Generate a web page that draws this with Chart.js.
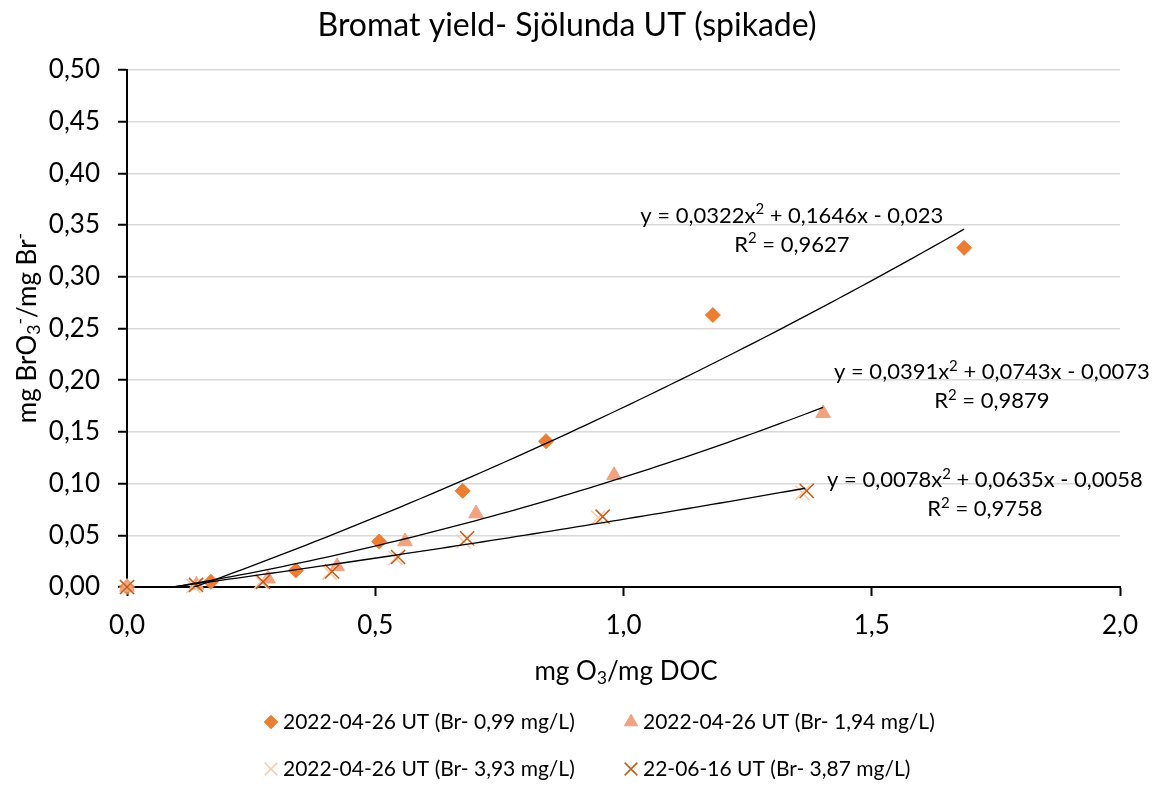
<!DOCTYPE html>
<html><head><meta charset="utf-8">
<script src="https://cdn.jsdelivr.net/npm/chart.js@4.4.1/dist/chart.umd.min.js"></script>
<style>html,body{margin:0;padding:0;background:#fff;}#wrap{width:1158px;height:785px;position:relative;}</style>
</head><body><div id="wrap"><canvas id="c" width="1158" height="785"></canvas></div>
<script>
// ---------- data ----------
const chartTitle = 'Bromat yield- Sjölunda UT (spikade)';
const seriesNames = ['2022-04-26 UT (Br- 0,99 mg/L)', '2022-04-26 UT (Br- 1,94 mg/L)', '2022-04-26 UT (Br- 3,93 mg/L)', '22-06-16 UT (Br- 3,87 mg/L)'];
const s1x = [0, 0.169, 0.340, 0.508, 0.676, 0.844, 1.180, 1.686];
const s1y = [0, 0.005, 0.016, 0.044, 0.093, 0.141, 0.263, 0.328];
const s2x = [0, 0.140, 0.284, 0.423, 0.560, 0.703, 0.981, 1.402];
const s2y = [0, 0.002, 0.008, 0.020, 0.044, 0.071, 0.108, 0.168];
const s3x = [0, 0.134, 0.270, 0.408, 0.541, 0.678, 0.949, 1.360];
const s3y = [0, 0.001, 0.005, 0.014, 0.028, 0.044, 0.067, 0.091];
const s4x = [0, 0.139, 0.274, 0.413, 0.546, 0.685, 0.958, 1.369];
const s4y = [0, 0.002, 0.005, 0.015, 0.029, 0.047, 0.068, 0.093];
// polynomial trendlines (as printed on chart): a*x^2 + b*x + c
const trendA = [0.0322, 0.0391, 0.0078];
const trendB = [0.1646, 0.0743, 0.0635];
const trendC = [-0.023, -0.0073, -0.0058];
const trendR2 = ['0,9627', '0,9879', '0,9758'];
const trendXmax = [1.686, 1.402, 1.366];
const xTickStep = 0.5, yTickStep = 0.05;

// ---------- helpers ----------
const FONT = 'Lato, "Open Sans", sans-serif';
const zip = (xs, ys) => xs.map((x, i) => ({x: x, y: ys[i]}));
const comma = v => String(v).replace('.', ',');
function trendPoints(k) {
  const pts = [];
  const n = 80;
  for (let i = 0; i <= n; i++) {
    const x = trendXmax[k] * i / n;
    pts.push({x: x, y: trendA[k] * x * x + trendB[k] * x + trendC[k]});
  }
  return pts;
}
function eqSegs(k) {
  return [{t: 'y = ' + comma(trendA[k]) + 'x'}, {t: '2', sup: true},
          {t: ' + ' + comma(trendB[k]) + 'x - ' + comma(-trendC[k])}];
}
function drawRich(ctx, segs, cx, cy, size, align) {
  let w = 0;
  segs.forEach(s => {
    const sz = (s.sup || s.sub) ? size * 0.68 : size;
    ctx.font = sz + 'px ' + FONT;
    s.w = ctx.measureText(s.t).width; w += s.w;
  });
  let x = align === 'left' ? cx : cx - w / 2;
  ctx.textAlign = 'left';
  ctx.textBaseline = 'middle';
  segs.forEach(s => {
    const sz = (s.sup || s.sub) ? size * 0.68 : size;
    ctx.font = sz + 'px ' + FONT;
    const dy = s.sup ? -size * 0.28 : (s.sub ? size * 0.25 : 0);
    ctx.fillText(s.t, x, cy + dy);
    x += s.w;
  });
}

const colors = ['#ED7D31', '#F2A27F', '#F8CBAD', '#C55A11'];
const styles = [
  {pointStyle: 'rectRot', radius: 7.5, bw: 1},
  {pointStyle: 'triangle', radius: 8.5, bw: 1},
  {pointStyle: 'crossRot', radius: 10, bw: 1.5},
  {pointStyle: 'crossRot', radius: 10, bw: 1.5}
];
const seriesData = [zip(s1x, s1y), zip(s2x, s2y), zip(s3x, s3y), zip(s4x, s4y)];

const datasets = [];
seriesData.forEach((d, i) => {
  datasets.push({
    label: seriesNames[i], data: d, order: 4 - i, clip: false,
    pointStyle: styles[i].pointStyle, pointRadius: styles[i].radius,
    pointBackgroundColor: colors[i], pointBorderColor: colors[i],
    pointBorderWidth: styles[i].bw, showLine: false
  });
});
[0, 1, 2].forEach(k => {
  datasets.push({
    label: 'trend' + k, data: trendPoints(k), order: 0, showLine: true,
    borderColor: '#000', borderWidth: 1.3, pointRadius: 0, tension: 0, fill: false
  });
});

const textPlugin = {
  id: 'texts',
  afterDraw(chart) {
    const ctx = chart.ctx;
    const xs = chart.scales.x, ys = chart.scales.y;
    ctx.save();
    ctx.fillStyle = '#000';
    // title
    drawRich(ctx, [{t: chartTitle}], 567, 26, 32);
    // x axis title
    drawRich(ctx, [{t: 'mg O'}, {t: '3', sub: true}, {t: '/mg DOC'}], 626, 672, 26);
    // y axis title
    ctx.save();
    ctx.translate(28, 328);
    ctx.rotate(-Math.PI / 2);
    drawRich(ctx, [{t: 'mg BrO'}, {t: '3', sub: true}, {t: '-', sup: true}, {t: '/mg Br'}, {t: '-', sup: true}], 0, 0, 26);
    ctx.restore();
    // trendline equations (anchored in data space)
    const eqPos = [[1.339, 0.359], [1.742, 0.208], [1.728, 0.1035]];
    eqPos.forEach((p, k) => {
      const px = xs.getPixelForValue(p[0]);
      const py = ys.getPixelForValue(p[1]);
      drawRich(ctx, eqSegs(k), px, py, 22);
      drawRich(ctx, [{t: 'R'}, {t: '2', sup: true}, {t: ' = ' + trendR2[k]}], px, py + 29, 22);
    });
    // legend
    const legPos = [[271, 722], [631, 722], [271, 769], [631, 769]];
    legPos.forEach((p, i) => {
      ctx.fillStyle = colors[i];
      ctx.strokeStyle = colors[i];
      ctx.lineWidth = styles[i].bw;
      Chart.helpers.drawPoint(ctx, {pointStyle: styles[i].pointStyle, radius: styles[i].radius * 0.9, rotation: 0, borderWidth: styles[i].bw}, p[0], p[1]);
      ctx.fillStyle = '#000';
      drawRich(ctx, [{t: seriesNames[i]}], p[0] + 12, p[1], 21, 'left');
    });
    ctx.restore();
  }
};

new Chart(document.getElementById('c').getContext('2d'), {
  type: 'scatter',
  data: {datasets: datasets},
  options: {
    responsive: false, animation: false,
    layout: {padding: {top: 70, right: 38, bottom: 148, left: 0}},
    plugins: {legend: {display: false}, title: {display: false}, tooltip: {enabled: false}},
    scales: {
      x: {
        type: 'linear', min: 0, max: 2,
        ticks: {stepSize: xTickStep, callback: v => v.toFixed(1).replace('.', ','), font: {family: FONT, size: 26}, color: '#000', padding: 14, maxRotation: 0, autoSkip: false},
        grid: {drawOnChartArea: false, tickLength: 9, tickColor: '#000', tickWidth: 2},
        border: {color: '#000', width: 2},
        afterFit: s => { s.height = 50; }
      },
      y: {
        type: 'linear', min: 0, max: 0.5,
        ticks: {stepSize: yTickStep, callback: v => v.toFixed(2).replace('.', ','), font: {family: FONT, size: 26}, color: '#000', padding: 18},
        grid: {color: '#D9D9D9', lineWidth: 1.5, tickLength: 9, tickColor: '#000', tickWidth: 2},
        border: {color: '#000', width: 2},
        afterFit: s => { s.width = 127; }
      }
    }
  },
  plugins: [textPlugin]
});
</script></body></html>
